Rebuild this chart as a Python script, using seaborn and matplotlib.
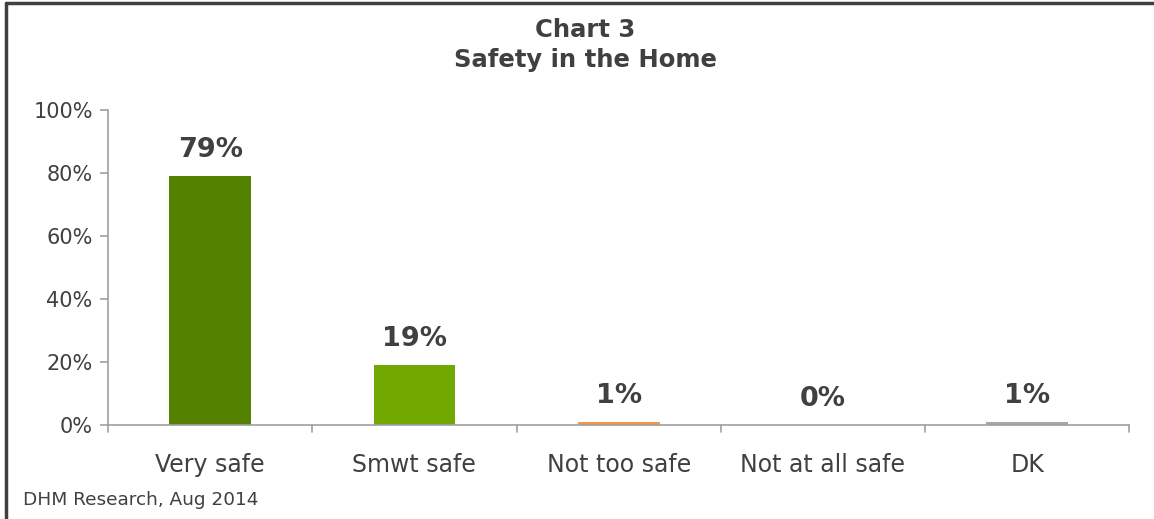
import matplotlib
matplotlib.use("Agg")
import matplotlib.pyplot as plt
import seaborn as sns
import pandas as pd
from matplotlib.lines import Line2D

categories = ["Very safe", "Smwt safe", "Not too safe", "Not at all safe", "DK"]
values = [79, 19, 1, 0, 1]
bar_colors = ["#548200", "#70A800", "#F79646", "#F79646", "#A6A6A6"]
y_ticks = [0, 20, 40, 60, 80, 100]

sns.set_style("white")
plt.rcParams["font.family"] = ["DejaVu Sans"]

df = pd.DataFrame({"category": categories, "value": values})

fig = plt.figure(figsize=(11.54, 5.19), dpi=100)
ax = fig.add_axes([0.0936, 0.181, 0.885, 0.607])

sns.barplot(data=df, x="category", y="value", hue="category",
            palette=bar_colors, width=0.4, legend=False, ax=ax, saturation=1,
            linewidth=0)

# value labels
for i, v in enumerate(values):
    ax.text(i, v + 4.2, f"{v}%", ha="center", va="bottom",
            fontsize=19.5, fontweight="bold", color="#404040")

ax.set_ylim(0, 100)
ax.set_xlim(-0.5, len(categories) - 0.5)
ax.set_yticks(y_ticks)
ax.set_yticklabels([f"{t}%" for t in y_ticks], fontsize=15, color="#404040")
ax.set_xticks(range(len(categories)))
ax.set_xticklabels(categories, fontsize=17, color="#404040")
ax.tick_params(axis="x", length=0, pad=20)
ax.tick_params(axis="y", length=6, color="#A0A0A0", width=1.2, left=True, pad=5)
ax.set_xlabel("")
ax.set_ylabel("")

# category boundary ticks on x axis
for b in range(len(categories) + 1):
    ax.plot([b - 0.5, b - 0.5], [0, -2.3], color="#A0A0A0", lw=1.2,
            clip_on=False)

sns.despine(ax=ax, top=True, right=True)
for side in ["left", "bottom"]:
    ax.spines[side].set_color("#A0A0A0")
    ax.spines[side].set_linewidth(1.2)

fig.text(0.507, 0.913, "Chart 3\nSafety in the Home", ha="center", va="center",
         fontsize=17.5, fontweight="bold", color="#404040", linespacing=1.35)
fig.text(0.02, 0.036, "DHM Research, Aug 2014", ha="left", va="center",
         fontsize=13.3, color="#404040")

# frame around the chart
fig.add_artist(Line2D([0.0048, 0.0048], [0, 0.994], transform=fig.transFigure,
                      color="#404040", lw=2.5))
fig.add_artist(Line2D([0.0048, 1.0], [0.994, 0.994], transform=fig.transFigure,
                      color="#404040", lw=2.5))

fig.savefig("out.png", dpi=100)
